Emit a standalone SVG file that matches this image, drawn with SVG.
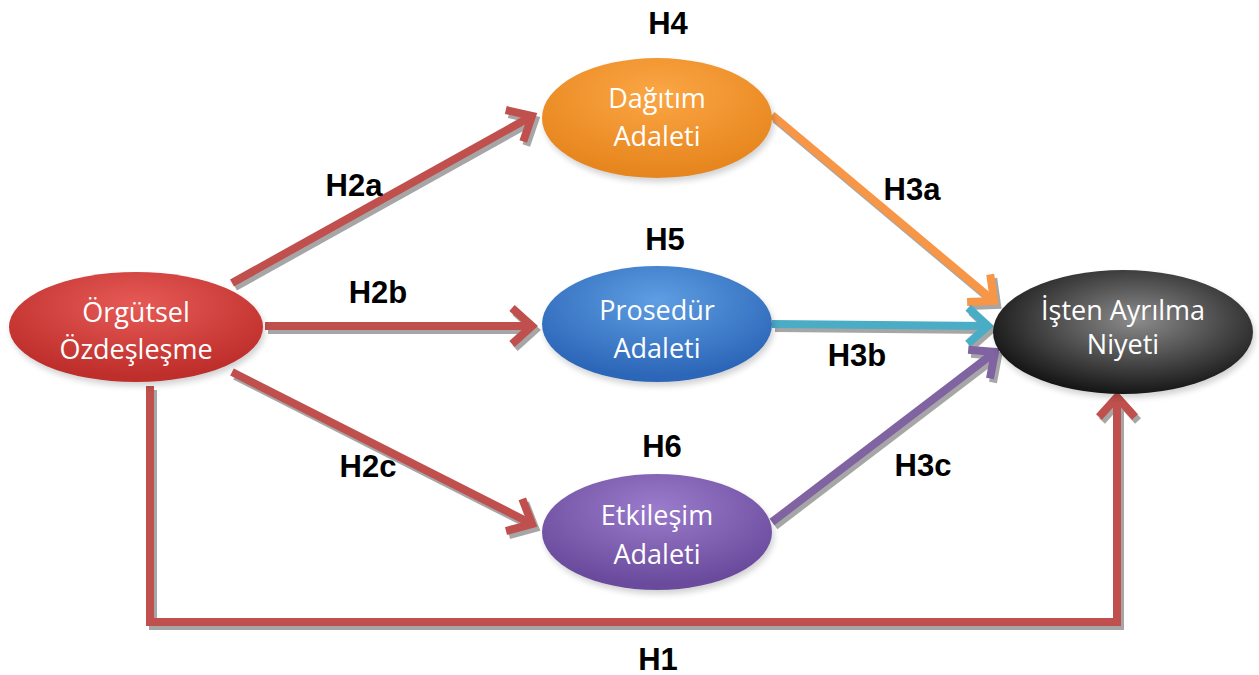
<svg xmlns="http://www.w3.org/2000/svg" width="1259" height="675" viewBox="0 0 1259 675">
<defs>
<style>
.lbl{font-family:"Liberation Sans",Arial,sans-serif;font-weight:bold;font-size:31px;fill:#000;text-anchor:middle}
.nt{font-family:"Open Sans","Noto Sans",sans-serif;font-size:27px;fill:#fff;text-anchor:middle}
.sh{fill:none;stroke:#A6A6A6;stroke-width:8}
.ln{fill:none;stroke-width:8}
.es{fill:#000;opacity:0.18}
</style>
<filter id="blur" x="-20%" y="-20%" width="140%" height="140%"><feGaussianBlur stdDeviation="3"/></filter>
<radialGradient id="gRed" cx="50%" cy="30%" r="65%"><stop offset="0" stop-color="#E65A56"/><stop offset="1" stop-color="#BE2E2B"/></radialGradient>
<radialGradient id="gOr" cx="50%" cy="30%" r="65%"><stop offset="0" stop-color="#FBA645"/><stop offset="1" stop-color="#E7861E"/></radialGradient>
<radialGradient id="gBl" cx="50%" cy="30%" r="65%"><stop offset="0" stop-color="#5E9EE2"/><stop offset="1" stop-color="#2C66B8"/></radialGradient>
<radialGradient id="gPu" cx="50%" cy="30%" r="65%"><stop offset="0" stop-color="#9B7BCB"/><stop offset="1" stop-color="#6A4A9C"/></radialGradient>
<radialGradient id="gBk" cx="55%" cy="40%" r="60%"><stop offset="0" stop-color="#8C8C8C"/><stop offset="1" stop-color="#161616"/></radialGradient>
<marker id="mR" viewBox="-26 -22 30 44" markerUnits="userSpaceOnUse" markerWidth="30" markerHeight="44" orient="auto" overflow="visible"><path d="M-20,-18 L0,0 L-20,18" fill="none" stroke="#C0504D" stroke-width="8"/></marker>
<marker id="mO" viewBox="-26 -22 30 44" markerUnits="userSpaceOnUse" markerWidth="30" markerHeight="44" orient="auto" overflow="visible"><path d="M-20,-18 L0,0 L-20,18" fill="none" stroke="#F79646" stroke-width="8"/></marker>
<marker id="mT" viewBox="-26 -22 30 44" markerUnits="userSpaceOnUse" markerWidth="30" markerHeight="44" orient="auto" overflow="visible"><path d="M-20,-18 L0,0 L-20,18" fill="none" stroke="#4BACC6" stroke-width="8"/></marker>
<marker id="mP" viewBox="-26 -22 30 44" markerUnits="userSpaceOnUse" markerWidth="30" markerHeight="44" orient="auto" overflow="visible"><path d="M-20,-18 L0,0 L-20,18" fill="none" stroke="#8064A2" stroke-width="8"/></marker>
<marker id="mS" viewBox="-26 -22 30 44" markerUnits="userSpaceOnUse" markerWidth="30" markerHeight="44" orient="auto" overflow="visible"><path d="M-20,-18 L0,0 L-20,18" fill="none" stroke="#A6A6A6" stroke-width="8"/></marker>
</defs>
<rect width="1259" height="675" fill="#fff"/>
<g id="connectors">
<g transform="translate(3,4)">
<path class="sh" d="M232,283 L532,116" marker-end="url(#mS)"/>
<path class="sh" d="M265,326 L532,326" marker-end="url(#mS)"/>
<path class="sh" d="M232,372 L532,524" marker-end="url(#mS)"/>
<path class="sh" d="M772,115 L994,301" marker-end="url(#mS)"/>
<path class="sh" d="M772,324 L988,326" marker-end="url(#mS)"/>
<path class="sh" d="M772,522 L995,352" marker-end="url(#mS)"/>
<path class="sh" d="M150,386 L150,622 L1117,622 L1117,397" marker-end="url(#mS)"/>
</g>
<path class="ln" stroke="#C0504D" d="M232,283 L532,116" marker-end="url(#mR)"/>
<path class="ln" stroke="#C0504D" d="M265,326 L532,326" marker-end="url(#mR)"/>
<path class="ln" stroke="#C0504D" d="M232,372 L532,524" marker-end="url(#mR)"/>
<path class="ln" stroke="#F79646" d="M772,115 L994,301" marker-end="url(#mO)"/>
<path class="ln" stroke="#4BACC6" d="M772,324 L988,326" marker-end="url(#mT)"/>
<path class="ln" stroke="#8064A2" d="M772,522 L995,352" marker-end="url(#mP)"/>
<path class="ln" stroke="#C0504D" d="M150,386 L150,622 L1117,622 L1117,397" marker-end="url(#mR)"/>
</g>
<g id="node-orgutsel">
<ellipse class="es" cx="138" cy="331" rx="127" ry="55" filter="url(#blur)"/>
<ellipse cx="136" cy="327" rx="127" ry="55" fill="url(#gRed)"/>
<text class="nt" x="136" y="322">Örgütsel</text>
<text class="nt" x="136" y="359">Özdeşleşme</text>
</g>
<g id="node-dagitim">
<ellipse class="es" cx="659" cy="122" rx="115" ry="60" filter="url(#blur)"/>
<ellipse cx="657" cy="118" rx="115" ry="60" fill="url(#gOr)"/>
<text class="nt" x="657" y="108">Dağıtım</text>
<text class="nt" x="657" y="146">Adaleti</text>
</g>
<g id="node-prosedur">
<ellipse class="es" cx="659" cy="328" rx="115" ry="58" filter="url(#blur)"/>
<ellipse cx="657" cy="324" rx="115" ry="58" fill="url(#gBl)"/>
<text class="nt" x="657" y="320">Prosedür</text>
<text class="nt" x="657" y="358">Adaleti</text>
</g>
<g id="node-etkilesim">
<ellipse class="es" cx="659" cy="536" rx="115" ry="58" filter="url(#blur)"/>
<ellipse cx="657" cy="532" rx="115" ry="58" fill="url(#gPu)"/>
<text class="nt" x="657" y="525">Etkileşim</text>
<text class="nt" x="657" y="564">Adaleti</text>
</g>
<g id="node-isten">
<ellipse class="es" cx="1125" cy="336" rx="130" ry="62" filter="url(#blur)"/>
<ellipse cx="1123" cy="332" rx="130" ry="62" fill="url(#gBk)"/>
<text class="nt" x="1123" y="320">İşten Ayrılma</text>
<text class="nt" x="1123" y="354">Niyeti</text>
</g>
<g id="labels">
<text class="lbl" x="668" y="34">H4</text>
<text class="lbl" x="354" y="196">H2a</text>
<text class="lbl" x="912" y="200">H3a</text>
<text class="lbl" x="665" y="250">H5</text>
<text class="lbl" x="378" y="303">H2b</text>
<text class="lbl" x="857" y="366">H3b</text>
<text class="lbl" x="662" y="457">H6</text>
<text class="lbl" x="368" y="477">H2c</text>
<text class="lbl" x="923" y="476">H3c</text>
<text class="lbl" x="658" y="670">H1</text>
</g>
</svg>
